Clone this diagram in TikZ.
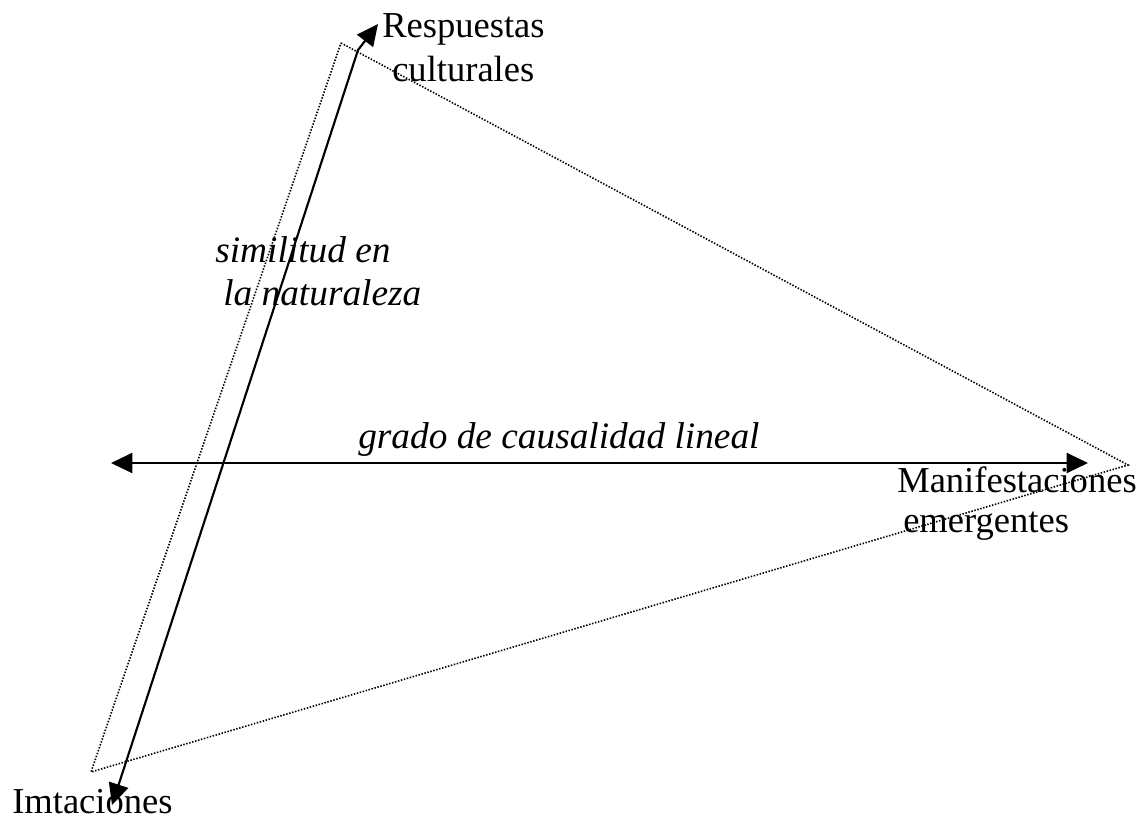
\documentclass[tikz,border=0pt]{standalone}
\usepackage{fontspec}
\setmainfont{Liberation Serif}
\usetikzlibrary{arrows.meta}
\begin{document}
\begin{tikzpicture}[x=0.75pt,y=-0.75pt,
  label text/.style={inner sep=0pt,anchor=base west,font=\fontsize{27.4pt}{32pt}\selectfont},
  axis text/.style={label text,font=\fontsize{28pt}{33pt}\selectfont\itshape},
  frame line/.style={line width=1.2pt,dash pattern=on 1.1pt off 1.2pt},
  axis arrow/.style={line width=1.6pt,{Triangle[length=16pt,width=15pt]}-{Triangle[length=16pt,width=15pt]}}]
  \useasboundingbox (0,0) rectangle (1143,829);

  % corners of the dotted triangle
  \coordinate (top) at (341,43);
  \coordinate (right) at (1128,465);
  \coordinate (left) at (91,772);
  \draw[frame line] (top) -- (right) -- (left) -- cycle;

  % ends of the two axes
  \coordinate (imEnd) at (112,805);
  \coordinate (bend) at (358,50);
  \coordinate (reEnd) at (378,24);
  \coordinate (gdL) at (111,463);
  \coordinate (gdR) at (1088,463);

  \draw[axis arrow] (imEnd) -- (bend) -- (reEnd);
  \draw[axis arrow] (gdL) -- (gdR);

  % labels
  \node[label text] (resp) at (382,37) {Respuestas};
  \node[label text] (cult) at (392,81) {culturales};
  \node[label text] (mani) at (897,492) {Manifestaciones};
  \node[label text] (emer) at (903,532) {emergentes};
  \node[label text] (imta) at (12,813) {Imtaciones};
  \node[axis text] (simi) at (215,262) {similitud en};
  \node[axis text] (natu) at (223,305) {la naturaleza};
  \node[axis text] (grad) at (358,448) {grado de causalidad lineal};
\end{tikzpicture}
\end{document}
